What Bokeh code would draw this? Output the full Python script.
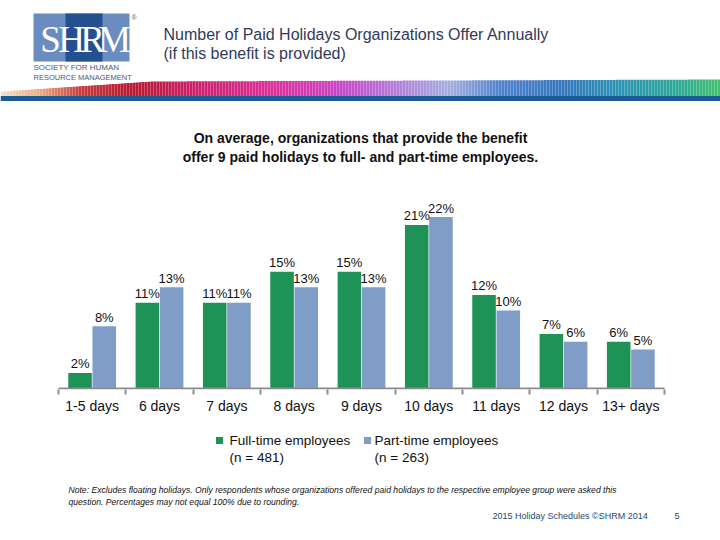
import numpy as np
from bokeh.plotting import figure
from bokeh.models import Range1d, LinearAxis, FixedTicker
from bokeh.layouts import column
from bokeh.embed import file_html
from bokeh.resources import INLINE
from bokeh.core.properties import value

# ---------------- data ----------------
categories = ["1-5 days", "6 days", "7 days", "8 days", "9 days",
              "10 days", "11 days", "12 days", "13+ days"]
full_time = [2, 11, 11, 15, 15, 21, 12, 7, 6]
part_time = [8, 13, 11, 13, 13, 22, 10, 6, 5]
series_names = ["Full-time employees", "Part-time employees"]
series_n = ["(n = 481)", "(n = 263)"]

title_lines = ["Number of Paid Holidays Organizations Offer Annually",
               "(if this benefit is provided)"]
subtitle_lines = ["On average, organizations that provide the benefit",
                  "offer 9 paid holidays to full- and part-time employees."]
note_lines = ["Note: Excludes floating holidays.  Only respondents whose organizations offered paid holidays to the respective employee group were asked this",
              "question. Percentages may not equal 100% due to rounding."]
footer_text = "2015 Holiday Schedules \u00a9SHRM 2014"
page_number = "5"

GREEN = "#1e9257"
BLUE = "#7f9dc6"
FONT = "Liberation Sans"
W = 720


def canvas(h, y_top, y_bottom):
    p = figure(width=W, height=h, x_range=Range1d(0, 720),
               y_range=Range1d(y_bottom, y_top), output_backend="svg",
               toolbar_location=None, min_border=0,
               x_axis_type=None, y_axis_type=None)
    p.outline_line_color = None
    p.background_fill_color = "white"
    p.border_fill_color = "white"
    return p


# ---------------- header (page y 0..182) ----------------
h = canvas(182, 0, 182)

# gradient stripe (decoration)
stops_x = [0, 40, 80, 130, 200, 280, 340, 400, 450, 500, 560, 620, 680, 720]
stops_c = [(246, 222, 200), (236, 170, 130), (200, 60, 60), (185, 25, 50),
           (205, 35, 110), (220, 50, 160), (200, 70, 200), (180, 130, 220),
           (165, 175, 225), (80, 130, 205), (55, 120, 190), (45, 150, 180),
           (45, 170, 150), (70, 195, 110)]
sx = np.arange(0, 720, 3)
cols = []
for x in sx:
    rgb = [int(np.interp(x + 1.5, stops_x, [c[k] for c in stops_c])) for k in range(3)]
    cols.append("#%02x%02x%02x" % tuple(rgb))
tops = np.interp(sx, [0, 150, 720], [91, 81, 79])
h.quad(left=sx, right=sx + 3, top=tops, bottom=np.full(len(sx), 96.0),
       fill_color=cols, line_color=None)
h.quad(left=[0], right=[720], top=[95.5], bottom=[100.5],
       fill_color="#1c5a96", line_color=None)

# logo
h.quad(left=[33], right=[129], top=[13], bottom=[61],
       fill_color="#6a8cc0", line_color=None)
h.quad(left=[65], right=[102], top=[13], bottom=[61],
       fill_color="#24508f", line_color=None)
h.text(x=[50, 71, 92, 114], y=[39, 39, 39, 39], text=["S", "H", "R", "M"],
       text_font=value("Liberation Serif"), text_font_size="37px",
       text_color="white", text_align="center", text_baseline="middle")
h.text(x=[131], y=[17], text=["\u00ae"], text_font=value(FONT),
       text_font_size="7px", text_color="#5a6a88", text_baseline="middle")
h.text(x=[33], y=[67], text=["SOCIETY FOR HUMAN"],
       text_font=value(FONT), text_font_size="8px", text_color="#4a5a78",
       text_baseline="middle")
h.text(x=[33], y=[77], text=["RESOURCE MANAGEMENT"],
       text_font=value(FONT), text_font_size="7.5px", text_color="#4a5a78",
       text_baseline="middle")

# title
h.text(x=[163, 163], y=[34, 53], text=title_lines, text_font=value(FONT),
       text_font_size="16px", text_color="#2f3b58", text_baseline="middle")
# subtitle
h.text(x=[360, 360], y=[137, 156], text=subtitle_lines, text_font=value(FONT),
       text_font_size="14px", text_font_style="bold", text_color="#111111",
       text_align="center", text_baseline="middle")

# ---------------- chart (page y 182..424) ----------------
n = len(categories)
px_per_cat = (664 - 58) / n
c = figure(width=W, height=242,
           x_range=Range1d(-58 / px_per_cat, n + (720 - 664) / px_per_cat),
           y_range=Range1d(-0.13, 26.44), output_backend="svg",
           toolbar_location=None, x_axis_type=None, y_axis_type=None,
           min_border_left=0, min_border_right=0, min_border_top=0,
           min_border_bottom=35)
c.outline_line_color = None

idx = np.arange(n)
xf = idx + 0.5 - 0.18
xp = idx + 0.5 + 0.18
c.vbar(x=xf, top=full_time, width=0.35, fill_color=GREEN, line_color=None)
c.vbar(x=xp, top=part_time, width=0.35, fill_color=BLUE, line_color=None)
c.segment(x0=[0], y0=[0], x1=[n], y1=[0], line_color="#8c8c8c", line_width=2)
c.text(x=xf, y=full_time, text=[f"{v}%" for v in full_time],
       text_font=value(FONT), text_font_size="13px", text_color="#111111",
       text_align="center", text_baseline="alphabetic", y_offset=-9)
c.text(x=xp, y=part_time, text=[f"{v}%" for v in part_time],
       text_font=value(FONT), text_font_size="13px", text_color="#111111",
       text_align="center", text_baseline="alphabetic", y_offset=-9)

ax = LinearAxis(ticker=FixedTicker(ticks=[float(i) + 0.5 for i in idx],
                                   minor_ticks=[float(i) for i in range(n + 1)]),
                major_label_overrides={float(i) + 0.5: cat for i, cat in enumerate(categories)})
ax.axis_line_color = None
ax.major_tick_line_color = None
ax.major_tick_out = 0
ax.major_tick_in = 0
ax.minor_tick_line_color = "#8c8c8c"
ax.minor_tick_line_width = 2
ax.minor_tick_out = 5
ax.minor_tick_in = 0
ax.major_label_standoff = 3
ax.major_label_text_font = FONT
ax.major_label_text_font_size = "14px"
ax.major_label_text_color = "#111111"
c.add_layout(ax, "below")

# ---------------- footer (page y 424..540) ----------------
f = canvas(116, 424, 540)
f.scatter(x=[219, 367], y=[440, 440], marker="square", size=7,
          fill_color=[GREEN, BLUE], line_color=None)
f.text(x=[229, 374], y=[440, 440], text=series_names, text_font=value(FONT),
       text_font_size="13.5px", text_color="#111111", text_baseline="middle")
f.text(x=[229, 374], y=[457, 457], text=series_n, text_font=value(FONT),
       text_font_size="13.5px", text_color="#111111", text_baseline="middle")
f.text(x=[68, 68], y=[489, 501], text=note_lines, text_font=value(FONT),
       text_font_size="8.6px", text_font_style="italic", text_color="#111111",
       text_baseline="middle")
f.text(x=[492], y=[515], text=[footer_text], text_font=value(FONT),
       text_font_size="9px", text_color="#1d4a6e", text_baseline="middle")
f.text(x=[674], y=[515], text=[page_number], text_font=value(FONT),
       text_font_size="9px", text_color="#1d4a6e", text_baseline="middle")

layout = column(h, c, f, spacing=0)
open("out.html", "w").write(file_html(layout, INLINE))
